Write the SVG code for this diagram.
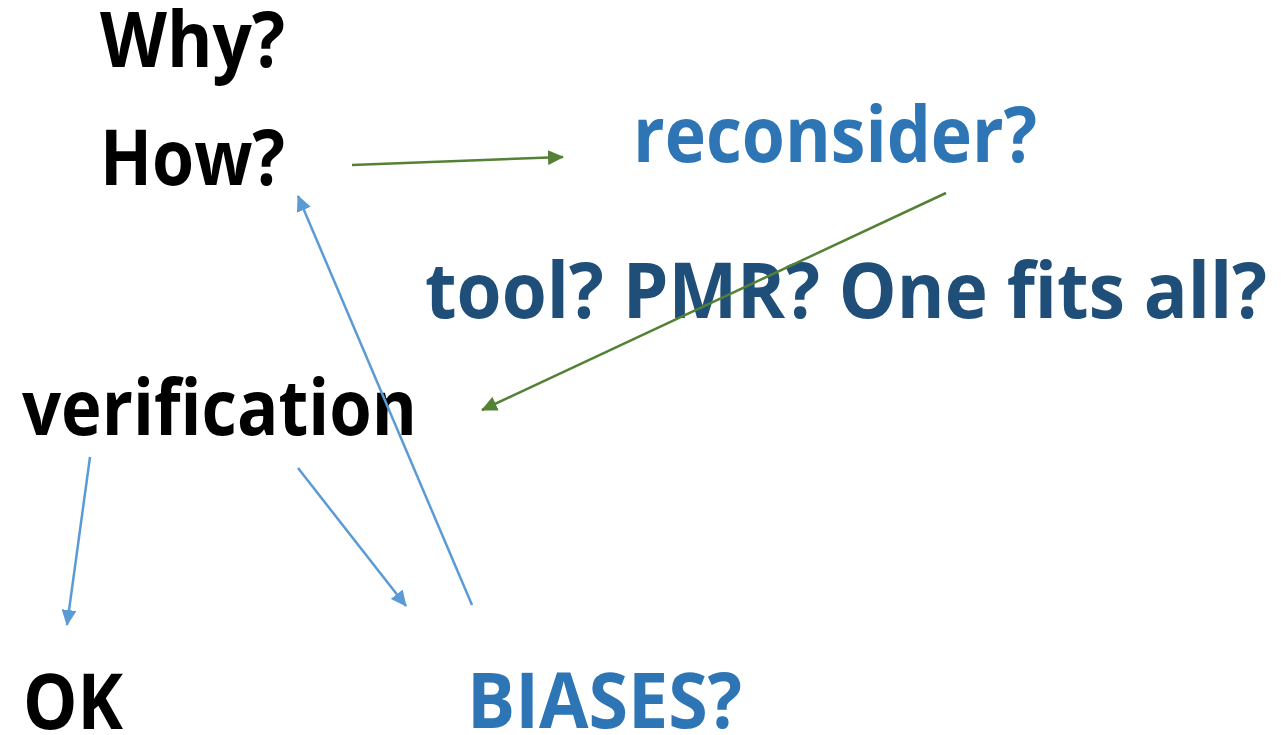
<svg xmlns="http://www.w3.org/2000/svg" width="1281" height="735" viewBox="0 0 1281 735">
  <style>
    .t { font-family: "Open Sans", "Lato", "Liberation Sans", sans-serif; font-weight: bold; font-size: 77px; font-variant-ligatures: none; }
    .black { fill: #000000; }
    .blue { fill: #2E75B6; }
    .navy { fill: #1F4E79; }
    .g { stroke: #538135; stroke-width: 2.5; fill: none; marker-end: url(#headG); }
    .b { stroke: #5B9BD5; stroke-width: 2.5; fill: none; marker-end: url(#headB); }
  </style>
  <defs>
    <marker id="headG" viewBox="0 0 16 15" markerWidth="16" markerHeight="15" markerUnits="userSpaceOnUse" refX="15" refY="7.5" orient="auto">
      <path d="M0,0 L16,7.5 L0,15 z" fill="#538135"/>
    </marker>
    <marker id="headB" viewBox="0 0 16 15" markerWidth="16" markerHeight="15" markerUnits="userSpaceOnUse" refX="15" refY="7.5" orient="auto">
      <path d="M0,0 L16,7.5 L0,15 z" fill="#5B9BD5"/>
    </marker>
  </defs>
  <rect width="1281" height="735" fill="#ffffff"/>

  <g id="why"><text class="t black" x="100" y="67" textLength="185" lengthAdjust="spacingAndGlyphs">Why?</text></g>
  <g id="how"><text class="t black" x="100" y="185" textLength="185" lengthAdjust="spacingAndGlyphs">How?</text></g>
  <g id="reconsider"><text class="t blue" x="633" y="162" textLength="404" lengthAdjust="spacingAndGlyphs">reconsider?</text></g>
  <g id="options"><text class="t navy" x="425" y="318" textLength="842" lengthAdjust="spacingAndGlyphs">tool? PMR? One fits all?</text></g>
  <g id="verification"><text class="t black" x="22" y="435" textLength="395" lengthAdjust="spacingAndGlyphs">verification</text></g>
  <g id="ok"><text class="t black" x="23" y="729" textLength="100" lengthAdjust="spacingAndGlyphs">OK</text></g>
  <g id="biases"><text class="t blue" x="467" y="728" textLength="275" lengthAdjust="spacingAndGlyphs">BIASES?</text></g>

  <g id="connectors">
    <line class="g" x1="352" y1="165" x2="563" y2="157"/>
    <line class="g" x1="946" y1="193" x2="482" y2="410"/>
    <line class="b" x1="90" y1="457" x2="67" y2="625"/>
    <line class="b" x1="298" y1="468" x2="406" y2="606"/>
    <line class="b" x1="472" y1="605" x2="298" y2="196"/>
  </g>
</svg>
